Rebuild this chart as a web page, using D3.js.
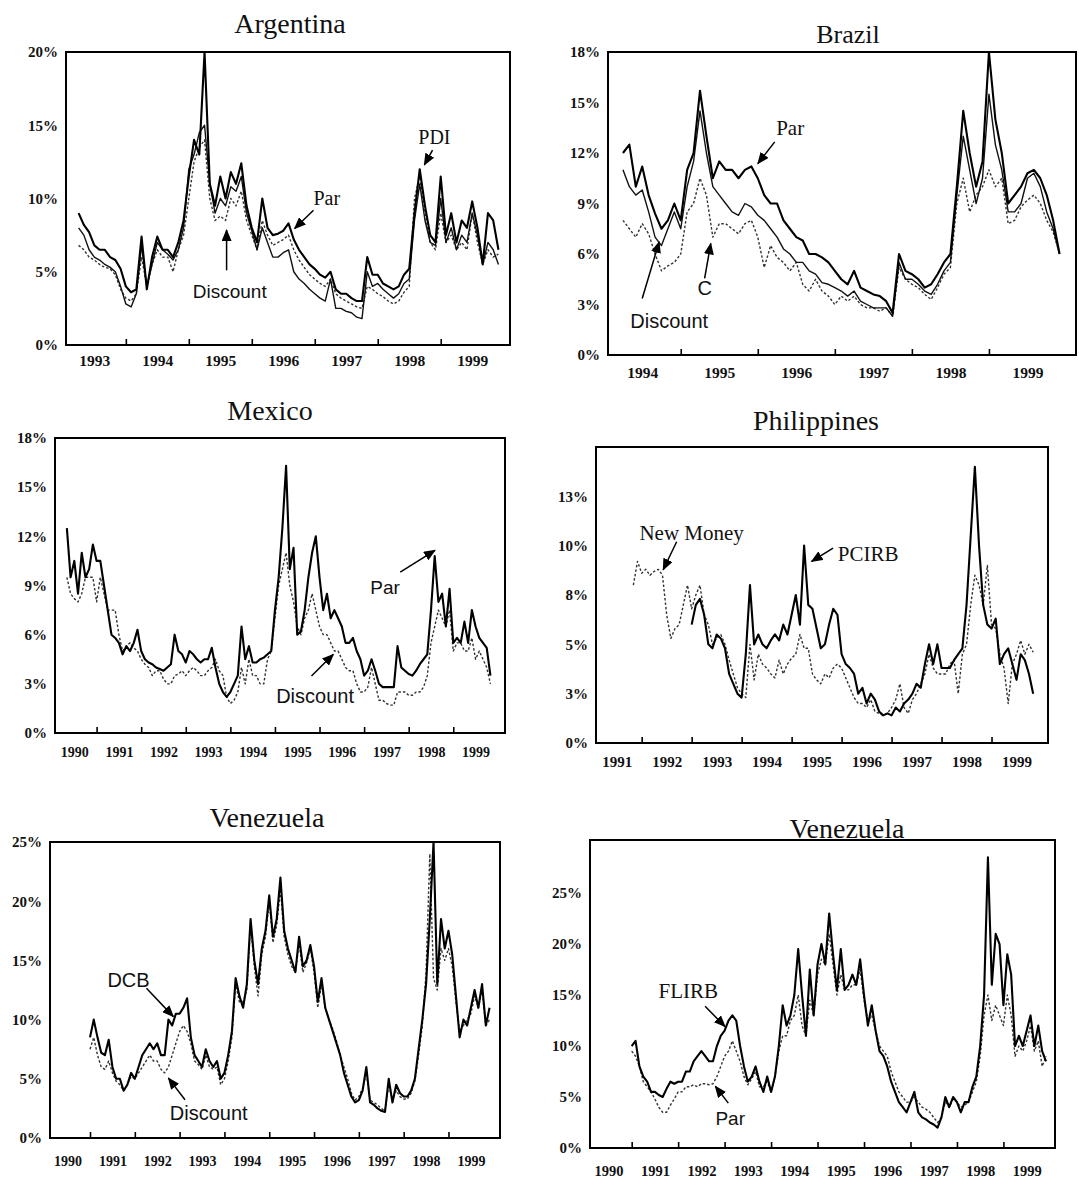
<!DOCTYPE html>
<html>
<head>
<meta charset="utf-8">
<script src="https://cdn.jsdelivr.net/npm/d3@7"></script>
<style>
  body { margin: 0; background: #fff; }
  svg { display: block; }
  .title { font-family: "Liberation Serif", "Times New Roman", serif; fill: #111; }
  .ytick { font-family: "Liberation Serif", serif; font-size: 15px; font-weight: bold; fill: #111; }
  .year { font-family: "Liberation Serif", serif; font-weight: bold; fill: #111; }
  .serif { font-family: "Liberation Serif", serif; fill: #111; }
  .sans { font-family: "Liberation Sans", Arial, sans-serif; fill: #111; }
</style>
</head>
<body>
<svg id="chart" width="1079" height="1184"></svg>
<script>
// monthly spreads (%)

// Argentina, from Apr 1993
const argStart = [1993, 4]
const argPar = [9.0, 8.2, 7.7, 6.8, 6.5, 6.5, 6.0, 5.8, 5.2,
  4.0, 3.6, 3.8, 7.4, 3.8, 6.0, 7.4, 6.5, 6.5, 6.0, 7.0, 8.5,
  11.5, 14.0, 13.0, 20.0, 11.0, 9.5, 11.5, 10.0, 11.8, 11.0, 12.4, 9.5,
  8.0, 7.0, 10.0, 8.0, 7.5, 7.6, 7.8, 8.3, 7.2, 6.5, 6.0, 5.5,
  5.2, 4.8, 4.6, 5.0, 3.8, 3.5, 3.5, 3.2, 3.0, 3.0, 6.0, 4.8,
  4.8, 4.2, 4.0, 3.8, 4.0, 4.8, 5.2, 9.0, 12.0, 9.5, 7.5, 7.0,
  11.5, 7.5, 9.0, 7.0, 8.5, 8.0, 9.8, 8.0, 5.5, 9.0, 8.5, 6.5]
const argDiscount = [8.0, 7.5, 6.5, 6.0, 5.8, 5.5, 5.3, 5.0, 4.0,
  2.8, 2.6, 3.5, 6.8, 4.0, 5.5, 7.0, 6.5, 6.2, 5.8, 6.5, 8.0,
  12.0, 13.0, 14.5, 15.0, 11.0, 9.0, 10.0, 9.5, 10.8, 10.5, 11.5, 9.0,
  7.8, 6.5, 8.0, 7.0, 6.0, 6.0, 6.3, 6.5, 5.0, 4.5, 4.2, 3.8,
  3.5, 3.2, 3.0, 4.5, 2.5, 2.5, 2.3, 2.2, 1.9, 1.8, 5.0, 4.0,
  4.2, 3.8, 3.5, 3.2, 3.5, 4.2, 4.5, 8.5, 11.0, 8.5, 7.0, 6.8,
  10.0, 7.0, 8.0, 6.5, 7.5, 7.0, 9.0, 7.5, 5.5, 7.0, 6.5, 5.5]
const argPdi = [6.8, 6.5, 6.0, 5.8, 5.5, 5.3, 5.2, 4.8, 3.8,
  3.2, 3.0, 3.5, 6.0, 4.0, 5.5, 6.5, 6.0, 6.0, 5.0, 6.5, 7.5,
  10.0, 12.5, 13.5, 14.0, 10.0, 8.5, 8.8, 8.5, 10.0, 9.5, 10.5, 8.5,
  7.5, 6.5, 8.5, 7.5, 6.8, 7.0, 7.2, 7.5, 6.5, 5.8, 5.3, 4.8,
  4.5, 4.2, 4.0, 4.5, 3.5, 3.2, 3.0, 2.8, 2.6, 2.5, 4.0, 3.8,
  3.5, 3.3, 3.0, 2.8, 3.0, 3.6, 4.0, 10.0, 11.5, 9.0, 7.0, 6.5,
  9.0, 7.0, 7.5, 6.5, 7.0, 6.5, 9.0, 7.0, 5.5, 6.5, 6.0, 6.2]
const argTicks = [0, 5, 10, 15, 20]
const argTickLabels = ["0%", "5%", "10%", "15%", "20%"]
const argYears = ["1993", "1994", "1995", "1996", "1997", "1998", "1999"]

// Brazil, from Apr 1994
const brzStart = [1994, 4]
const brzPar = [12.0, 12.5, 10.0, 11.2, 9.5, 8.4, 7.5, 8.0, 9.0,
  8.0, 11.0, 12.0, 15.7, 13.0, 10.5, 11.5, 11.0, 11.0, 10.5, 11.0, 11.2,
  10.5, 9.5, 9.0, 9.0, 8.0, 7.5, 7.0, 6.8, 6.0, 6.0, 5.8, 5.5,
  5.0, 4.5, 4.2, 5.0, 4.0, 3.8, 3.6, 3.5, 3.2, 2.5, 6.0, 5.0,
  4.8, 4.5, 4.0, 4.2, 4.8, 5.5, 6.0, 10.0, 14.5, 12.0, 10.0, 11.5,
  18.0, 14.0, 12.0, 9.0, 9.5, 10.0, 10.8, 11.0, 10.5, 9.5, 8.0, 6.0]
const brzC = [11.0, 10.0, 9.5, 9.8, 8.5, 7.0, 6.5, 7.5, 8.5,
  7.5, 10.0, 11.5, 14.5, 12.0, 10.0, 9.5, 9.0, 8.5, 8.3, 9.0, 8.8,
  8.3, 8.0, 7.5, 7.0, 6.3, 6.0, 5.5, 5.5, 5.0, 4.8, 4.3, 4.2,
  4.0, 3.8, 3.5, 3.8, 3.2, 3.0, 2.8, 2.8, 2.8, 2.3, 5.5, 4.5,
  4.5, 4.2, 3.8, 3.6, 4.2, 5.0, 5.5, 9.5, 13.0, 11.0, 9.0, 10.5,
  15.5, 12.5, 11.0, 8.5, 8.5, 9.0, 10.5, 10.8, 10.0, 8.5, 7.5, 6.0]
const brzDiscount = [8.0, 7.5, 7.0, 7.8, 7.2, 6.0, 5.0, 5.3, 5.5,
  6.0, 8.5, 9.0, 10.5, 9.5, 7.0, 7.8, 7.8, 7.5, 7.2, 7.8, 8.0,
  7.0, 5.2, 6.5, 5.8, 5.5, 5.0, 5.5, 4.2, 3.8, 4.5, 3.8, 3.5,
  3.0, 3.5, 3.2, 3.5, 3.0, 2.8, 2.8, 2.6, 2.8, 2.3, 5.2, 4.5,
  4.2, 4.0, 3.6, 3.3, 4.0, 4.8, 5.2, 9.0, 10.5, 8.5, 9.5, 10.0,
  11.0, 10.0, 10.5, 7.8, 8.0, 8.8, 9.2, 9.5, 9.0, 8.0, 7.3, 6.0]
const brzTicks = [0, 3, 6, 9, 12, 15, 18]
const brzTickLabels = ["0%", "3%", "6%", "9%", "12%", "15%", "18%"]
const brzYears = ["1994", "1995", "1996", "1997", "1998", "1999"]

// Mexico, from May 1990
const mexStart = [1990, 5]
const mexPar = [12.5, 9.5, 10.5, 8.5, 11.0, 9.5, 10.0, 11.5,
  10.5, 10.5, 9.0, 7.5, 6.0, 5.8, 5.5, 4.8, 5.3, 5.0, 5.5, 6.3,
  5.0, 4.5, 4.3, 4.2, 4.0, 3.9, 3.8, 4.0, 4.2, 6.0, 5.0, 4.8,
  4.3, 5.0, 4.8, 4.5, 4.3, 4.5, 4.5, 5.2, 4.0, 3.0, 2.5, 2.2,
  2.5, 3.0, 3.5, 6.5, 4.5, 5.3, 4.3, 4.3, 4.5, 4.6, 4.8, 5.0,
  7.5, 9.5, 12.5, 16.3, 10.0, 11.3, 6.0, 6.2, 7.5, 9.5, 11.0, 12.0,
  9.5, 7.5, 8.5, 7.0, 7.5, 7.0, 6.5, 5.5, 5.5, 5.8, 5.0, 4.5,
  3.5, 3.8, 4.5, 3.8, 3.0, 2.8, 2.8, 2.8, 2.8, 5.3, 4.0, 3.8,
  3.6, 3.5, 3.8, 4.2, 4.5, 4.8, 7.5, 10.8, 8.0, 8.5, 6.5, 8.8,
  5.5, 5.8, 5.5, 6.8, 5.5, 7.5, 6.5, 5.8, 5.5, 5.2, 3.5]
const mexDiscount = [9.5, 8.5, 8.2, 8.0, 8.5, 9.5, 9.5, 9.5,
  8.0, 9.5, 8.5, 7.5, 7.5, 7.5, 6.0, 5.0, 5.3, 5.5, 5.2, 5.0,
  4.5, 4.2, 4.0, 3.5, 3.8, 3.8, 3.3, 3.0, 3.0, 3.5, 3.6, 3.8,
  3.5, 3.8, 4.0, 3.8, 3.5, 3.5, 3.8, 4.0, 4.5, 3.8, 3.5, 2.2,
  1.8, 2.0, 2.5, 4.0, 3.0, 4.5, 3.5, 3.5, 3.0, 3.0, 4.5, 5.0,
  7.0, 9.0, 10.0, 11.0, 9.0, 8.0, 6.5, 6.0, 7.0, 7.5, 8.5, 7.5,
  6.5, 6.0, 6.0, 5.5, 5.0, 5.0, 4.5, 4.0, 3.8, 3.8, 3.0, 2.5,
  2.5, 2.8, 4.0, 3.0, 2.0, 2.0, 1.8, 1.7, 1.7, 2.5, 2.5, 2.5,
  2.3, 2.3, 2.5, 2.5, 2.8, 3.5, 5.5, 6.5, 7.5, 7.0, 6.5, 7.5,
  5.0, 5.5, 5.5, 5.0, 5.0, 5.8, 4.5, 5.0, 4.5, 4.0, 3.0]
const mexTicks = [0, 3, 6, 9, 12, 15, 18]
const mexTickLabels = ["0%", "3%", "6%", "9%", "12%", "15%", "18%"]
const mexYears = ["1990", "1991", "1992", "1993", "1994", "1995", "1996", "1997", "1998", "1999"]

// Philippines
const phlMoneyStart = [1991, 11]
const phlNewMoney = [8.0, 9.2,
  8.6, 8.8, 8.5, 8.7, 8.8, 8.5, 6.5, 5.3, 5.8, 6.0, 7.0, 8.0,
  6.8, 7.5, 8.0, 6.5, 6.0, 5.0, 5.3, 5.5, 5.0, 4.2, 3.5, 2.8,
  2.5, 2.3, 5.0, 3.2, 4.5, 4.0, 3.8, 3.5, 3.3, 4.2, 3.5, 4.0,
  4.3, 4.5, 5.5, 4.8, 4.8, 3.5, 3.2, 3.0, 3.5, 3.3, 3.8, 4.0,
  3.8, 3.3, 2.8, 2.3, 2.0, 2.0, 1.8, 2.2, 1.6, 1.5, 1.4, 1.5,
  1.8, 2.2, 3.0, 1.8, 1.5, 2.2, 2.5, 3.0, 3.5, 4.5, 3.8, 3.5,
  3.5, 3.5, 4.0, 4.2, 2.5, 4.5, 5.0, 7.0, 8.5, 8.0, 7.0, 9.0,
  6.0, 5.8, 4.5, 3.8, 2.0, 4.0, 4.5, 5.2, 4.5, 5.0, 4.6]
const phlPcirbStart = [1993, 1]
const phlPcirb = [6.0, 7.0, 7.3, 6.5, 5.0, 4.8, 5.5, 5.3, 4.8, 3.5, 3.0, 2.5,
  2.3, 4.5, 8.0, 5.0, 5.5, 5.0, 4.8, 5.2, 5.5, 5.2, 6.0, 5.5,
  6.5, 7.5, 6.0, 10.0, 7.0, 6.8, 5.8, 4.8, 5.0, 6.0, 6.8, 6.5,
  4.5, 4.0, 3.8, 3.5, 2.5, 2.8, 2.0, 2.5, 2.2, 1.6, 1.4, 1.5,
  1.4, 1.8, 1.6, 2.0, 2.2, 2.5, 3.0, 2.8, 4.0, 5.0, 4.0, 5.0,
  3.8, 3.8, 3.8, 4.2, 4.5, 4.8, 7.0, 10.5, 14.0, 10.0, 7.0, 6.0,
  5.8, 6.3, 4.0, 4.5, 4.8, 4.0, 3.2, 4.5, 4.2, 3.5, 2.5]
const phlTicks = [0, 2.5, 5, 7.5, 10, 12.5]
const phlTickLabels = ["0%", "3%", "5%", "8%", "10%", "13%"]
const phlYears = ["1991", "1992", "1993", "1994", "1995", "1996", "1997", "1998", "1999"]

// Venezuela (left), from Jan 1991
const venStart = [1991, 1]
const venDcb = [8.5, 10.0, 8.5, 7.2, 7.0, 8.3, 6.0, 5.0, 5.0, 4.0, 4.5, 5.5,
  5.0, 6.0, 7.0, 7.5, 8.0, 7.5, 8.0, 7.0, 7.0, 10.0, 9.5, 10.5,
  10.5, 11.0, 11.8, 8.5, 7.0, 6.5, 6.0, 7.5, 6.5, 6.0, 6.5, 5.0,
  5.5, 7.0, 9.0, 13.5, 12.0, 11.0, 13.0, 18.5, 15.0, 13.0, 16.0, 17.5,
  20.5, 17.0, 18.5, 22.0, 17.5, 16.0, 15.0, 14.0, 17.0, 14.5, 15.0, 16.3,
  14.5, 11.5, 13.5, 11.0, 10.0, 9.0, 8.0, 7.0, 5.5, 4.5, 3.5, 3.0,
  3.2, 4.0, 6.0, 3.0, 2.8, 2.5, 2.3, 2.2, 5.0, 3.0, 4.5, 3.8,
  3.5, 3.5, 4.0, 5.0, 7.5, 10.0, 13.0, 18.5, 25.0, 13.0, 18.5, 16.0,
  17.5, 15.5, 12.0, 8.5, 10.0, 9.5, 11.0, 12.5, 11.0, 13.0, 9.5, 11.0]
const venDiscount = [7.5, 8.5, 7.0, 6.0, 5.8, 6.5, 5.5, 4.8, 4.5, 4.0, 4.5, 5.2,
  5.0, 5.5, 6.0, 6.5, 7.0, 6.5, 6.5, 5.8, 5.5, 6.0, 7.0, 8.0,
  9.0, 9.5, 9.0, 8.0, 6.5, 6.2, 5.8, 7.0, 6.0, 5.8, 6.0, 4.5,
  5.0, 6.5, 8.5, 13.0, 11.5, 11.5, 12.5, 18.0, 14.5, 12.0, 15.5, 17.0,
  20.0, 16.5, 18.0, 21.0, 17.0, 15.5, 14.5, 14.0, 16.5, 14.0, 14.8, 16.0,
  14.0, 11.0, 13.0, 11.0, 10.0, 9.2, 8.2, 7.0, 6.0, 5.0, 3.8, 3.2,
  3.5, 4.2, 5.5, 3.2, 3.0, 2.8, 2.5, 2.3, 4.5, 3.2, 4.0, 3.5,
  3.3, 3.3, 3.8, 4.8, 7.0, 9.5, 14.0, 24.0, 13.5, 12.5, 16.0, 15.0,
  16.0, 14.5, 11.5, 9.0, 9.5, 10.0, 10.5, 12.0, 11.0, 12.5, 9.5, 10.0]
const venTicks = [0, 5, 10, 15, 20, 25]
const venTickLabels = ["0%", "5%", "10%", "15%", "20%", "25%"]
const venYears = ["1990", "1991", "1992", "1993", "1994", "1995", "1996", "1997", "1998", "1999"]

// Venezuela (right), from Jan 1991
const ve2Flirb = [10.0, 10.5, 8.0, 7.0, 6.5, 5.5, 5.5, 5.2, 5.0, 5.8, 6.5, 6.3,
  6.5, 6.5, 7.5, 7.5, 8.5, 9.0, 9.5, 9.0, 8.5, 8.5, 10.0, 11.0,
  11.5, 12.5, 13.0, 12.5, 10.0, 8.0, 6.5, 7.0, 8.0, 6.5, 5.5, 7.0,
  5.5, 7.0, 10.0, 14.0, 12.0, 13.0, 15.0, 19.5, 15.0, 11.0, 17.5, 13.0,
  18.0, 20.0, 18.0, 23.0, 19.0, 15.5, 19.5, 15.5, 16.0, 17.0, 16.0, 18.5,
  15.0, 12.0, 14.0, 11.5, 9.5, 9.0, 8.0, 6.5, 5.5, 4.5, 4.0, 3.5,
  4.5, 5.5, 3.5, 3.0, 2.8, 2.5, 2.3, 2.0, 3.0, 5.0, 4.0, 5.0,
  4.5, 3.5, 4.5, 4.5, 6.0, 7.0, 10.0, 15.0, 28.5, 16.0, 21.0, 20.0,
  14.0, 19.0, 17.0, 10.0, 11.0, 10.0, 11.5, 13.0, 10.0, 12.0, 9.5, 8.5]
const ve2Par = [9.5, 9.0, 8.0, 6.5, 6.0, 5.5, 4.8, 4.0, 3.5, 3.5, 4.2, 4.8,
  5.5, 5.5, 6.0, 6.0, 6.2, 6.0, 6.3, 6.3, 6.2, 6.3, 7.0, 8.0,
  9.0, 9.5, 10.5, 9.5, 8.5, 7.0, 6.2, 6.8, 7.5, 6.0, 6.0, 6.5,
  5.5, 7.0, 9.5, 11.0, 11.0, 12.5, 13.0, 15.0, 12.0, 11.0, 14.5, 13.0,
  17.0, 18.5, 18.0, 21.0, 18.0, 15.0, 17.0, 15.5, 15.5, 16.0, 16.0, 17.5,
  14.5, 12.5, 13.0, 11.5, 10.0, 9.5, 9.0, 7.5, 6.5, 5.5, 5.0, 4.5,
  4.5, 5.0, 4.5, 4.0, 3.8, 3.5, 3.0, 2.5, 3.0, 4.5, 4.0, 4.8,
  4.5, 4.0, 4.2, 4.5, 5.5, 6.5, 9.0, 13.0, 15.0, 12.5, 14.0, 13.0,
  12.0, 15.0, 13.0, 9.0, 10.0, 9.5, 10.5, 12.0, 9.5, 10.5, 8.0, 9.0]
const ve2Ticks = [0, 5, 10, 15, 20, 25]
const ve2TickLabels = ["0%", "5%", "10%", "15%", "20%", "25%"]

// layout + styling per panel
const panels = [
  {
    title: "Argentina", titleX: 290, titleY: 33, titleSize: 28,
    frame: [66, 52, 510, 345], xDomain: [1993.05, 2000.1], yMax: 20,
    ticks: argTicks, tickLabels: argTickLabels, years: argYears, yearDy: 21, yearSize: 15.5,
    series: [
      { values: argPdi, start: argStart, kind: "dot" },
      { values: argDiscount, start: argStart, kind: "thin" },
      { values: argPar, start: argStart, kind: "main" }
    ],
    notes: [
      { text: "PDI", at: [1998.9, 13.75], font: "serif", size: 20, from: [1998.87, 13.3], to: [1998.74, 12.3] },
      { text: "Par", at: [1997.19, 9.55], font: "serif", size: 20, from: [1996.98, 9.2], to: [1996.68, 7.95] },
      { text: "Discount", at: [1995.65, 3.2], font: "sans", size: 19, from: [1995.6, 5.1], to: [1995.6, 7.85] }
    ]
  },
  {
    title: "Brazil", titleX: 848, titleY: 43, titleSize: 26,
    frame: [608, 52, 1076, 355], xDomain: [1994.056, 2000.13], yMax: 18,
    ticks: brzTicks, tickLabels: brzTickLabels, years: brzYears, yearDy: 23, yearSize: 15.5,
    series: [
      { values: brzDiscount, start: brzStart, kind: "dot" },
      { values: brzC, start: brzStart, kind: "thin" },
      { values: brzPar, start: brzStart, kind: "main" }
    ],
    notes: [
      { text: "Par", at: [1996.42, 13.05], font: "serif", size: 21, from: [1996.22, 12.66], to: [1996.0, 11.37] },
      { text: "C", at: [1995.31, 3.56], font: "sans", size: 20, from: [1995.31, 4.55], to: [1995.39, 6.63] },
      { text: "Discount", at: [1994.85, 1.58], font: "sans", size: 20, from: [1994.5, 3.36], to: [1994.72, 6.72] }
    ]
  },
  {
    title: "Mexico", titleX: 270, titleY: 420, titleSize: 28,
    frame: [55, 438, 505, 733], xDomain: [1990.067, 2000.16], yMax: 18,
    ticks: mexTicks, tickLabels: mexTickLabels, years: mexYears, yearDy: 24, yearSize: 14,
    series: [
      { values: mexDiscount, start: mexStart, kind: "dot" },
      { values: mexPar, start: mexStart, kind: "main" }
    ],
    notes: [
      { text: "Par", at: [1997.47, 8.49], font: "sans", size: 19, from: [1997.81, 9.82], to: [1998.59, 11.15] },
      { text: "Discount", at: [1995.9, 1.84], font: "sans", size: 20, from: [1995.82, 3.48], to: [1996.31, 4.8] }
    ]
  },
  {
    title: "Philippines", titleX: 816, titleY: 430, titleSize: 28,
    frame: [596, 447, 1048, 743], xDomain: [1991.086, 2000.13], yMax: 15,
    ticks: phlTicks, tickLabels: phlTickLabels, years: phlYears, yearDy: 24, yearSize: 15,
    series: [
      { values: phlNewMoney, start: phlMoneyStart, kind: "dot" },
      { values: phlPcirb, start: phlPcirbStart, kind: "main" }
    ],
    notes: [
      { text: "New Money", at: [1993.0, 10.3], font: "serif", size: 21, from: [1992.7, 10.2], to: [1992.43, 8.78] },
      { text: "PCIRB", at: [1996.53, 9.2], font: "serif", size: 21, from: [1995.83, 9.88], to: [1995.4, 9.2] }
    ]
  },
  {
    title: "Venezuela", titleX: 267, titleY: 827, titleSize: 28,
    frame: [50, 842, 500, 1138], xDomain: [1990.107, 2000.15], yMax: 25,
    ticks: venTicks, tickLabels: venTickLabels, years: venYears, yearDy: 28, yearSize: 14,
    series: [
      { values: venDiscount, start: venStart, kind: "dot" },
      { values: venDcb, start: venStart, kind: "main" }
    ],
    notes: [
      { text: "DCB", at: [1991.86, 12.78], font: "sans", size: 20, from: [1992.26, 12.64], to: [1992.86, 10.25] },
      { text: "Discount", at: [1993.65, 1.54], font: "sans", size: 20, from: [1993.12, 3.23], to: [1992.75, 5.06] }
    ]
  },
  {
    title: "Venezuela", titleX: 847, titleY: 838, titleSize: 28,
    frame: [590, 840, 1055, 1148], xDomain: [1990.103, 2000.11], yMax: 30.2,
    ticks: ve2Ticks, tickLabels: ve2TickLabels, years: venYears, yearDy: 28, yearSize: 14.5,
    series: [
      { values: ve2Par, start: venStart, kind: "dot" },
      { values: ve2Flirb, start: venStart, kind: "main" }
    ],
    notes: [
      { text: "FLIRB", at: [1992.22, 14.7], font: "serif", size: 21, from: [1992.58, 13.9], to: [1993.01, 11.9] },
      { text: "Par", at: [1993.12, 2.29], font: "sans", size: 19, from: [1993.08, 4.4], to: [1992.8, 6.05] }
    ]
  }
]

const lineStyles = {
  main: { stroke: "#000", width: 2.1, dash: null },
  thin: { stroke: "#111", width: 1.4, dash: null },
  dot: { stroke: "#333", width: 1.4, dash: "2.5,2" }
}

const svg = d3.select("#chart")
const defs = svg.append("defs")
defs.append("marker")
  .attr("id", "head")
  .attr("viewBox", "0 0 12 10")
  .attr("refX", 11).attr("refY", 5)
  .attr("markerWidth", 12).attr("markerHeight", 10)
  .attr("markerUnits", "userSpaceOnUse")
  .attr("orient", "auto")
  .append("path").attr("d", "M0,0L12,5L0,10Z").attr("fill", "#000")

panels.forEach(function (p, pi) {
  const [l, t, r, b] = p.frame
  const x = d3.scaleLinear().domain(p.xDomain).range([l, r])
  const y = d3.scaleLinear().domain([0, p.yMax]).range([b, t])
  const g = svg.append("g")

  defs.append("clipPath").attr("id", "clip" + pi)
    .append("rect").attr("x", l).attr("y", t).attr("width", r - l).attr("height", b - t)

  g.append("text")
    .attr("class", "title")
    .attr("x", p.titleX).attr("y", p.titleY)
    .attr("text-anchor", "middle")
    .style("font-size", p.titleSize + "px")
    .text(p.title)

  const line = d3.line().x(d => x(d.t)).y(d => y(d.v))
  p.series.forEach(function (s) {
    const pts = s.values.map((v, i) => ({ t: s.start[0] + (s.start[1] - 1 + i) / 12, v: v }))
    const st = lineStyles[s.kind]
    g.append("path")
      .attr("clip-path", "url(#clip" + pi + ")")
      .attr("d", line(pts))
      .attr("fill", "none")
      .attr("stroke", st.stroke)
      .attr("stroke-width", st.width)
      .attr("stroke-linejoin", "round")
      .attr("stroke-dasharray", st.dash)
  })

  // box
  g.append("rect")
    .attr("x", l).attr("y", t).attr("width", r - l).attr("height", b - t)
    .attr("fill", "none").attr("stroke", "#000").attr("stroke-width", 2)

  // y labels
  const yAxis = d3.axisLeft(y).tickValues(p.ticks)
    .tickFormat((d, i) => p.tickLabels[i]).tickSize(0).tickPadding(8)
  g.append("g").attr("transform", "translate(" + l + ",0)").call(yAxis)
    .call(a => a.select(".domain").remove())
    .selectAll("text").attr("class", "ytick")

  // year boundary ticks
  const firstYear = +p.years[0]
  const bounds = d3.range(firstYear + 1, firstYear + p.years.length)
  const tickAxis = d3.axisBottom(x).tickValues(bounds).tickSize(-6).tickFormat("")
  g.append("g").attr("transform", "translate(0," + b + ")").call(tickAxis)
    .call(a => a.select(".domain").remove())
    .selectAll("line").attr("stroke", "#000").attr("stroke-width", 1.6)

  // year labels centred in each year
  const yearAxis = d3.axisBottom(x).tickValues(p.years.map(v => +v + 0.5))
    .tickFormat((d, i) => p.years[i]).tickSize(0)
    .tickPadding(p.yearDy - 0.71 * p.yearSize)
  g.append("g").attr("transform", "translate(0," + b + ")").call(yearAxis)
    .call(a => a.select(".domain").remove())
    .selectAll("text").attr("class", "year").style("font-size", p.yearSize + "px")

  // annotations
  p.notes.forEach(function (n) {
    g.append("line")
      .attr("x1", x(n.from[0])).attr("y1", y(n.from[1]))
      .attr("x2", x(n.to[0])).attr("y2", y(n.to[1]))
      .attr("stroke", "#000").attr("stroke-width", 1.5)
      .attr("marker-end", "url(#head)")
    g.append("text")
      .attr("class", n.font)
      .attr("x", x(n.at[0])).attr("y", y(n.at[1]))
      .attr("text-anchor", "middle")
      .style("font-size", n.size + "px")
      .text(n.text)
  })
})
</script>
</body>
</html>
